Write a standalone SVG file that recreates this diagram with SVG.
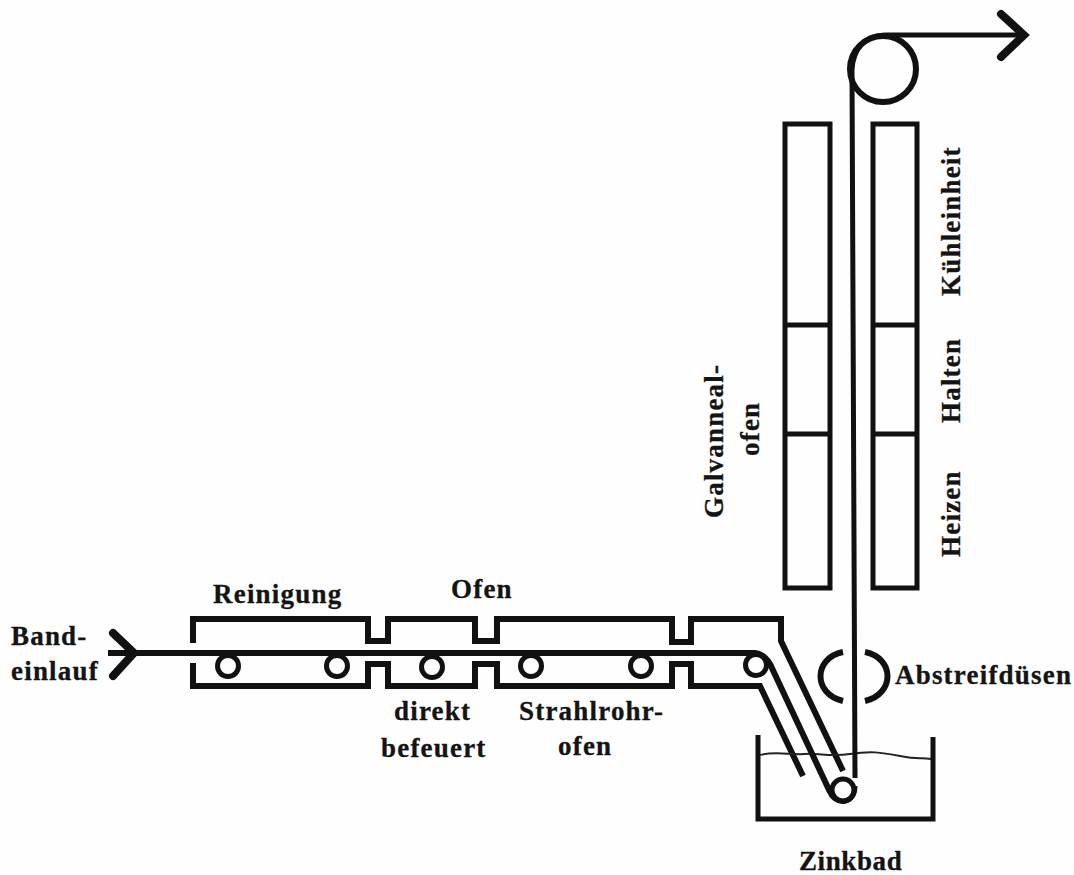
<svg xmlns="http://www.w3.org/2000/svg" width="1074" height="875" viewBox="0 0 1074 875">
<style>
.l{fill:none;stroke:#111;stroke-width:5;stroke-linejoin:miter}
.b{fill:none;stroke:#111;stroke-width:6;stroke-linejoin:miter}
.t{fill:none;stroke:#111;stroke-width:5}
.h{fill:none;stroke:#111;stroke-width:8;stroke-linecap:round;stroke-linejoin:miter}
.w{fill:none;stroke:#222;stroke-width:2}
text{font-family:"Liberation Serif","Times New Roman",serif;font-weight:bold;font-size:27px;fill:#141414;letter-spacing:1.2px;stroke:#141414;stroke-width:.3px}
</style>
<rect width="1074" height="875" fill="#fefefe"/>
<g id="furnace">
<path class="b" d="M193 643V619H368V641H388V619H475V641H497V619H672V642H691V619H781V641L843 771"/>
<path class="b" d="M193 663V686H368V664H388V686H475V664H497V686H672V664H691V686H760L803 776"/>
</g>
<g id="bath">
<path class="l" d="M758 735V819H933V737"/>
<path class="w" d="M760 755C775 751 790 755 805 754S830 757 850 754S880 752 900 756S920 757 931 759"/>
</g>
<g id="cooling-left"><path class="l" d="M785 124H830V588H785ZM785 325H830M785 434H830"/></g>
<g id="cooling-right"><path class="l" d="M873 124H917V588H873ZM873 325H917M873 434H917"/></g>
<g id="nozzles">
<path class="b" d="M843 652C813 658 813 694 843 701"/>
<path class="b" d="M865 652C895 658 895 694 865 701"/>
</g>
<g id="rollers">
<circle class="t" cx="228" cy="666" r="10.5"/>
<circle class="t" cx="337" cy="666" r="10.5"/>
<circle class="t" cx="432" cy="667" r="10.5"/>
<circle class="t" cx="531" cy="666" r="10.5"/>
<circle class="t" cx="641" cy="666" r="10.5"/>
<circle class="t" cx="756" cy="665" r="10.5"/>
<circle class="t" cx="843" cy="790" r="11"/>
<circle class="b" cx="883" cy="69" r="33"/>
</g>
<g id="connectors">
<path class="b" d="M108 653H755C763 654 767 659 770 664L830 792"/>
<path class="l" d="M855 778L852 70C853 48 866 35 885 35H1022"/>
<path class="h" d="M1001 14L1024 35L1001 57"/>
<path class="h" d="M113 633L134 653L113 676"/>
<path class="l" d="M829 790C834 806 855 806 855 786"/>
</g>
<g id="labels">
<text x="213" y="603">Reinigung</text>
<text x="451" y="598">Ofen</text>
<text x="11" y="645">Band-</text>
<text x="11" y="680">einlauf</text>
<text x="394" y="720">direkt</text>
<text x="381" y="757">befeuert</text>
<text x="519" y="720">Strahlrohr-</text>
<text x="558" y="755">ofen</text>
<text x="895" y="684">Abstreifdüsen</text>
<text x="799" y="870" style="letter-spacing:.6px">Zinkbad</text>
<text transform="translate(723 518) rotate(-90)">Galvanneal-</text>
<text transform="translate(759 456) rotate(-90)">ofen</text>
<text transform="translate(960 296) rotate(-90)">Kühleinheit</text>
<text transform="translate(960 423) rotate(-90)">Halten</text>
<text transform="translate(960 557) rotate(-90)">Heizen</text>
</g>
</svg>
